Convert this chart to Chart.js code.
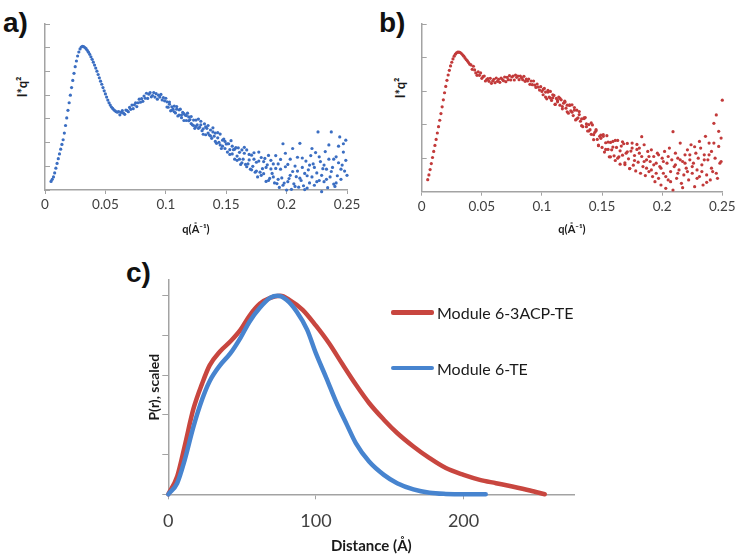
<!DOCTYPE html>
<html>
<head>
<meta charset="utf-8">
<script src="https://cdn.jsdelivr.net/npm/chart.js@4"></script>
<style>
body { margin: 0; background: #fff; }
#page { position: relative; width: 740px; height: 557px; overflow: hidden; }
canvas { position: absolute; }
.tag { position: absolute; font: bold 28px 'Liberation Sans', Arial, sans-serif; line-height: 1; color: #111; }
.ytitle { position: absolute; font: bold 13px Lato, sans-serif; color: #1a1a1a; white-space: nowrap;
          transform: translate(-50%, -50%) rotate(-90deg); }
.leg { position: absolute; display: flex; align-items: center; font: 16px Lato, sans-serif; color: #1a1a1a; white-space: nowrap; line-height: 1.2; }
.leg .sw { display: inline-block; width: 43px; height: 4.5px; border-radius: 2px; margin-right: 3px; }
</style>
</head>
<body>
<div id="page">
  <div class="tag" style="left:3px;top:9px">a)</div>
  <div class="tag" style="left:379px;top:9px">b)</div>
  <div class="tag" style="left:126px;top:259px">c)</div>
  <div class="ytitle" style="left:22px;top:87px">I*q²</div>
  <div class="ytitle" style="left:400px;top:88px">I*q²</div>
  <canvas id="chartA" width="370" height="240" style="left:0;top:0"></canvas>
  <canvas id="chartB" width="370" height="240" style="left:370px;top:0"></canvas>
  <canvas id="chartC" width="470" height="307" style="left:120px;top:250px"></canvas>
</div>
<script>
// q grid shared by panels a and b (Å^-1)
const qGrid = [
  0.005,0.006,0.007,0.008,0.009,0.010,
  0.011,0.012,0.013,0.014,0.015,0.016,0.017,0.018,0.019,0.020,
  0.021,0.022,0.023,0.024,0.025,0.026,0.027,0.028,0.029,0.030,
  0.031,0.032,0.033,0.034,0.035,0.036,0.037,0.038,0.039,0.040,
  0.041,0.042,0.043,0.044,0.045,0.046,0.047,0.048,0.049,0.050,
  0.051,0.052,0.053,0.054,0.055,0.056,0.057,0.058,0.059,0.060,
  0.061,0.062,0.063,0.064,0.065,0.066,0.067,0.068,0.069,0.070,
  0.071,0.072,0.073,0.074,0.075,0.076,0.077,0.078,0.079,0.080,
  0.081,0.082,0.083,0.084,0.085,0.086,0.087,0.088,0.089,0.090,
  0.091,0.092,0.093,0.094,0.095,0.096,0.097,0.098,0.099,0.100,
  0.101,0.102,0.103,0.104,0.105,0.106,0.107,0.108,0.109,0.110,
  0.111,0.112,0.113,0.114,0.115,0.116,0.117,0.118,0.119,0.120,
  0.121,0.122,0.123,0.124,0.125,0.126,0.127,0.128,0.129,0.130,
  0.131,0.132,0.133,0.134,0.135,0.136,0.137,0.138,0.139,0.140,
  0.141,0.142,0.143,0.144,0.145,0.146,0.147,0.148,0.149,0.150,
  0.151,0.152,0.153,0.154,0.155,0.156,0.157,0.158,0.159,0.160,
  0.161,0.162,0.163,0.164,0.165,0.166,0.167,0.168,0.169,0.170,
  0.171,0.172,0.173,0.174,0.175,0.176,0.177,0.178,0.179,0.180,
  0.181,0.182,0.183,0.184,0.185,0.186,0.187,0.188,0.189,0.190,
  0.191,0.192,0.193,0.194,0.195,0.196,0.197,0.198,0.199,0.200,
  0.201,0.202,0.203,0.204,0.205,0.206,0.207,0.208,0.209,0.210,
  0.211,0.212,0.213,0.214,0.215,0.216,0.217,0.218,0.219,0.220,
  0.221,0.222,0.223,0.224,0.225,0.226,0.227,0.228,0.229,0.230,
  0.231,0.232,0.233,0.234,0.235,0.236,0.237,0.238,0.239,0.240,
  0.241,0.242,0.243,0.244,0.245,0.246,0.247,0.248,0.249,0.250
];
// second reading in the noisy high-q part
const qExtra = [
  0.101,0.103,0.105,0.107,0.109,0.111,0.113,0.115,0.117,0.119,
  0.121,0.123,0.125,0.127,0.129,0.131,0.133,0.135,0.137,0.139,
  0.141,0.143,0.145,0.147,0.149,0.151,0.153,0.155,0.157,0.159,
  0.161,0.163,0.165,0.167,0.169,0.171,0.173,0.175,0.177,0.179,
  0.181,0.183,0.185,0.187,0.189,0.191,0.193,0.195,0.197,0.199,
  0.201,0.203,0.205,0.207,0.209,0.211,0.213,0.215,0.217,0.219,
  0.221,0.223,0.225,0.227,0.229,0.231,0.233,0.235,0.237,0.239,
  0.241,0.243,0.245,0.247,0.249
];

// panel a: I*q^2 (arbitrary units, axis 0..7)
const iqA = [
  0.36,0.45,0.55,0.72,0.92,1.12,
  1.32,1.52,1.72,1.92,2.12,2.40,2.72,3.04,3.36,3.68,
  4.00,4.32,4.62,4.92,5.20,5.44,5.65,5.82,5.95,6.03,
  6.06,6.05,6.01,5.96,5.89,5.81,5.72,5.62,5.51,5.39,
  5.27,5.14,5.01,4.87,4.73,4.59,4.46,4.32,4.18,4.05,
  3.92,3.79,3.68,3.58,3.50,3.44,3.38,3.34,3.30,3.28,
  3.31,3.17,3.27,3.35,3.24,3.19,3.37,3.35,3.30,3.48,
  3.40,3.58,3.43,3.59,3.67,3.52,3.68,3.83,3.70,3.85,
  3.74,3.96,3.87,4.08,3.86,4.04,4.11,3.93,3.98,4.11,
  3.92,4.06,3.83,4.00,3.92,4.03,3.80,3.90,3.76,3.87,
  3.72,3.49,3.71,3.34,3.51,3.41,3.54,3.25,3.41,3.12,
  3.16,3.41,3.16,3.27,2.93,3.16,2.93,3.24,2.92,2.97,
  3.10,2.75,2.95,2.60,2.95,2.75,2.99,2.65,2.75,2.50,
  2.58,2.79,2.33,2.60,2.72,2.32,2.53,2.18,2.62,2.27,
  2.40,1.97,2.20,2.01,2.36,1.75,2.10,2.15,1.75,1.94,
  1.60,1.95,1.70,2.08,1.52,1.70,1.30,1.79,1.43,1.78,
  1.59,1.08,1.69,1.30,1.55,1.08,1.69,1.10,1.27,0.88,
  1.47,1.00,1.57,0.75,1.17,0.55,1.22,0.75,1.37,0.90,
  0.69,1.33,0.36,1.06,1.46,0.49,0.89,0.70,1.10,0.30,
  0.91,0.27,1.10,0.11,1.29,0.51,1.95,0.29,0.98,0.00,
  1.08,0.48,1.30,0.03,0.78,0.26,1.01,0.56,1.38,0.12,
  1.97,0.40,0.95,0.18,0.02,1.22,0.60,0.85,0.30,1.45,
  0.55,1.10,0.20,1.58,0.72,2.45,0.40,1.20,-0.07,0.90,
  0.35,1.62,0.88,0.10,1.30,0.55,2.45,0.95,0.25,0.15,
  1.40,0.60,1.85,2.24,0.45,1.05,1.60,0.80,1.25,0.62
];
const iqAExtra = [
  3.50,3.62,3.36,3.30,3.52,3.38,3.05,3.22,3.14,3.08,
  2.80,2.72,2.68,2.60,2.90,2.35,2.66,2.40,2.28,2.45,
  2.05,2.42,1.90,1.85,2.05,1.95,1.50,1.85,1.72,1.25,
  1.30,1.15,1.80,0.98,1.50,0.85,1.30,0.80,1.60,0.62,
  1.20,0.95,0.40,1.25,0.55,1.45,0.45,0.88,0.20,1.55,
  0.35,0.62,1.75,0.15,0.80,0.50,1.35,0.70,0.08,1.05,
  1.75,0.95,0.35,1.40,0.62,1.05,0.45,1.90,0.78,1.30,
  0.30,1.15,0.88,1.95,2.10
];

// panel b: I*q^2 (arbitrary units, axis 0..5)
const iqB = [
  0.36,0.50,0.66,0.84,1.02,1.20,
  1.38,1.56,1.75,1.94,2.13,2.33,2.53,2.74,2.95,3.14,
  3.32,3.48,3.62,3.75,3.86,3.96,4.04,4.10,4.14,4.16,
  4.16,4.15,4.12,4.08,4.04,3.99,3.94,3.90,3.85,3.80,
  3.78,3.65,3.74,3.63,3.54,3.47,3.57,3.47,3.54,3.38,
  3.43,3.45,3.30,3.34,3.37,3.29,3.38,3.23,3.30,3.35,
  3.25,3.39,3.29,3.35,3.26,3.39,3.35,3.31,3.42,3.28,
  3.41,3.34,3.46,3.33,3.42,3.45,3.33,3.48,3.41,3.45,
  3.34,3.45,3.40,3.34,3.44,3.29,3.36,3.30,3.36,3.20,
  3.30,3.19,3.30,3.18,3.11,3.21,3.12,3.03,3.13,2.99,
  2.89,3.08,2.97,2.77,2.97,2.82,2.99,2.72,2.80,2.87,
  2.61,2.78,2.68,2.82,2.58,2.74,2.47,2.64,2.70,2.49,
  2.58,2.34,2.59,2.41,2.59,2.27,2.43,2.14,2.43,2.20,
  2.39,2.10,2.17,1.94,2.18,2.21,1.94,1.81,2.00,1.85,
  1.71,1.99,1.55,1.77,1.82,1.56,1.37,1.65,1.69,1.32,
  1.65,1.18,1.46,1.67,1.26,1.04,1.47,1.25,1.50,1.07,
  0.93,1.32,1.53,1.04,0.82,1.36,1.09,1.43,0.86,1.15,
  1.44,0.98,0.69,1.21,1.45,0.79,1.08,0.62,1.26,0.88,
  1.30,0.55,1.05,0.75,1.40,0.48,0.95,1.20,0.60,0.90,
  1.25,0.45,1.05,0.30,0.85,1.15,0.40,0.75,0.20,1.00,
  0.55,1.20,0.10,0.85,0.35,1.30,0.60,0.95,0.05,0.75,
  1.15,0.40,1.00,0.65,1.45,0.25,0.90,0.50,1.10,0.70,
  1.25,0.35,0.95,1.40,0.55,0.85,0.15,1.15,0.65,1.00,
  0.45,1.30,0.80,0.20,1.10,1.65,0.50,0.95,1.45,0.35,
  1.20,0.60,2.04,1.00,2.29,0.40,1.35,0.85,1.60,2.73
];
const iqBExtra = [
  3.05,2.82,3.02,2.79,2.89,2.60,2.72,2.78,2.54,2.67,
  2.38,2.57,2.37,2.51,2.17,2.30,1.97,2.20,2.02,1.81,
  2.05,1.70,1.85,1.39,1.59,1.70,1.26,1.48,1.04,1.33,
  1.53,1.00,1.22,1.49,0.81,1.19,0.69,1.30,0.93,1.41,
  1.15,1.64,0.90,0.70,1.05,0.65,0.80,0.55,1.10,0.70,
  0.90,0.45,1.05,0.30,1.79,0.80,0.55,0.95,0.12,0.85,
  0.60,1.10,0.75,1.34,0.40,1.50,0.60,0.95,0.28,1.10,
  0.70,1.45,0.55,1.80,0.90
];

// panel c: P(r) curves, distance in Å
const rRed = [0,6,11,17,23,28,35,42,49,55,62,69,76,82,91,100,109,118,127,136,146,155,166,177,188,200,211,222,233,245,255];
const pRed = [0,0.09,0.24,0.43,0.56,0.65,0.72,0.77,0.83,0.90,0.96,0.99,1.0,0.98,0.93,0.85,0.76,0.655,0.553,0.46,
              0.376,0.309,0.241,0.182,0.132,0.098,0.073,0.056,0.039,0.019,0];
const rBlue = [0,6,11,17,23,28,35,42,49,55,62,69,74,80,87,94,100,107,114,121,127,136,146,155,166,177,188,200,215];
const pBlue = [0,0.056,0.17,0.34,0.48,0.57,0.65,0.71,0.79,0.87,0.94,0.99,1.0,0.98,0.92,0.83,0.71,0.587,0.46,0.35,
               0.258,0.165,0.098,0.056,0.025,0.008,0.002,0,0];
const seriesNames = ['Module 6-3ACP-TE', 'Module 6-TE'];

// tick values and labels
const qTicks = [0, 0.05, 0.1, 0.15, 0.2, 0.25];
const qTickLabels = ['0', '0.05', '0.1', '0.15', '0.2', '0.25'];
const rTicks = [0, 100, 200];
const pTicks = [0, 0.2, 0.4, 0.6, 0.8, 1.0];

const axisGray = '#a3a3a3';
const tickText = '#404040';
const titleText = '#1a1a1a';

const pts = (xs, ys) => xs.map((x, i) => ({ x: x, y: ys[i] }));

function scatterPanel(id, ys, ysExtra, yMax, color, yWidth, padRight, xHeight) {
  const ds = data => ({
    data: data, showLine: false, pointRadius: 1.6, pointBorderWidth: 0,
    backgroundColor: color, borderColor: color, clip: false
  });
  return new Chart(document.getElementById(id), {
    type: 'scatter',
    data: { datasets: [ds(pts(qGrid, ys)), ds(pts(qExtra, ysExtra))] },
    options: {
      responsive: false,
      animation: false,
      layout: { padding: { left: 0, top: 24, right: padRight, bottom: 0 } },
      plugins: { legend: { display: false }, tooltip: { enabled: false } },
      scales: {
        x: {
          type: 'linear', min: 0, max: 0.25,
          afterBuildTicks: s => { s.ticks = qTicks.map(v => ({ value: v })); },
          afterFit: s => { s.height = xHeight; },
          ticks: {
            color: tickText, font: { family: 'Lato', size: 13.5 }, padding: 3,
            maxRotation: 0, autoSkip: false,
            callback: (v, i) => qTickLabels[i]
          },
          grid: { drawOnChartArea: false, tickLength: 4, color: axisGray },
          border: { color: axisGray, width: 1.5 },
          title: {
            display: true, text: 'q(Å⁻¹)', color: titleText,
            font: { family: 'Lato', size: 11, weight: 'bold' },
            padding: { top: 0, bottom: 4 }
          }
        },
        y: {
          min: 0, max: yMax,
          afterFit: s => { s.width = yWidth; },
          ticks: { display: false, stepSize: 1 },
          grid: { drawOnChartArea: false, tickLength: -5, color: axisGray },
          border: { color: axisGray, width: 1.5 }
        }
      }
    }
  });
}

scatterPanel('chartA', iqA, iqAExtra, 7, '#3b6ec2', 45, 23, 50);
scatterPanel('chartB', iqB, iqBExtra, 5, '#c23a3a', 51.7, 17.7, 48.3);

const lineColors = ['#c8463f', '#4784cf'];
const chartC = new Chart(document.getElementById('chartC'), {
  type: 'scatter',
  data: {
    datasets: [
      { label: seriesNames[0], data: pts(rRed, pRed), borderColor: lineColors[0], order: 1 },
      { label: seriesNames[1], data: pts(rBlue, pBlue), borderColor: lineColors[1], order: 0 }
    ].map(d => Object.assign(d, {
      showLine: true, pointRadius: 0, borderWidth: 4.5,
      cubicInterpolationMode: 'monotone', clip: false, borderCapStyle: 'round'
    }))
  },
  options: {
    responsive: false,
    animation: false,
    layout: { padding: { left: 0, top: 30, right: 15.7, bottom: 0 } },
    plugins: { legend: { display: false }, tooltip: { enabled: false } },
    scales: {
      x: {
        type: 'linear', min: 0, max: 275,
        afterBuildTicks: s => { s.ticks = rTicks.map(v => ({ value: v })); },
        afterFit: s => { s.height = 62.7; },
        ticks: { color: tickText, font: { family: 'Lato', size: 18 }, padding: 11, maxRotation: 0 },
        grid: { drawOnChartArea: false, tickLength: 5, color: axisGray },
        border: { color: axisGray, width: 1.5 },
        title: {
          display: true, text: 'Distance (Å)', color: titleText,
          font: { family: 'Lato', size: 15, weight: 'bold' },
          padding: { top: 0, bottom: 2 }
        }
      },
      y: {
        min: 0, max: 1.08,
        afterBuildTicks: s => { s.ticks = pTicks.map(v => ({ value: v })); },
        afterFit: s => { s.width = 48.3; },
        ticks: { display: false },
        grid: { drawOnChartArea: false, tickLength: 6, color: axisGray },
        border: { color: axisGray, width: 1.5 },
        title: {
          display: true, text: 'P(r), scaled', color: titleText,
          font: { family: 'Lato', size: 14, weight: 'bold' },
          padding: { top: 26, bottom: 0 }
        }
      }
    }
  }
});

// legend for panel c, placed inside the plot like the original
const page = document.getElementById('page');
chartC.data.datasets.forEach((d, i) => {
  const row = document.createElement('div');
  row.className = 'leg';
  row.style.left = '391px';
  row.style.top = (303 + i * 55.6) + 'px';
  row.innerHTML = '<span class="sw" style="background:' + d.borderColor + '"></span>' + d.label;
  page.appendChild(row);
});
</script>
</body>
</html>
